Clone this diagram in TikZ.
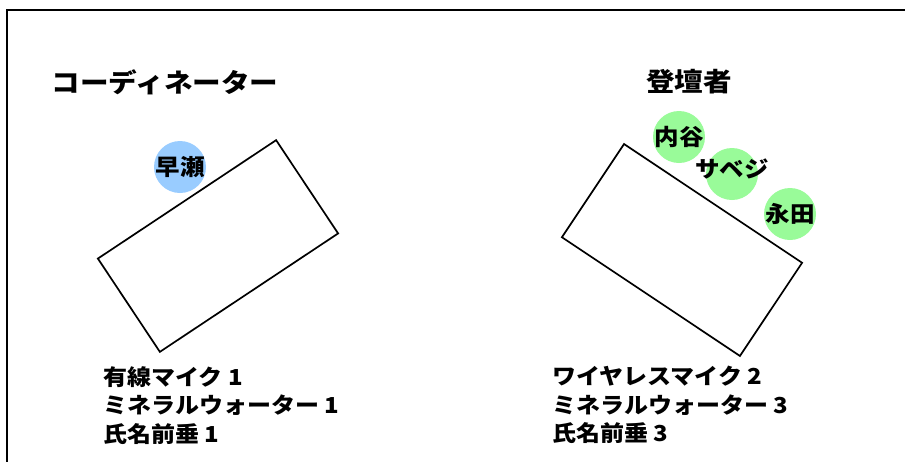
\documentclass[tikz,border=0pt]{standalone}
\usepackage{fontspec}
\newfontfamily\jp{Noto Sans CJK JP}[FakeStretch=1.09]
\newfontfamily\jphead{Noto Sans CJK JP}[FakeStretch=1.1]
\usepackage{tikz}
\usetikzlibrary{calc,positioning}

\begin{document}
\begin{tikzpicture}[x=1pt,y=-1pt,
		desk/.style={draw,line width=1.7pt,minimum width=214pt,minimum height=112pt},
		seat/.style={circle,minimum size=52pt,inner sep=0pt},
		headline/.style={font=\jphead\bfseries\fontsize{26}{26}\selectfont},
		seatlabel/.style={font=\jp\bfseries\fontsize{22.5}{22.5}\selectfont},
		itemlist/.style={font=\jp\bfseries\fontsize{22}{28.5}\selectfont,align=left,anchor=north west,inner sep=0pt}]
		\useasboundingbox (0,0) rectangle (905,461);
		\draw[line width=2.2pt] (7,462) -- (7,10) -- (906,10);
		% coordinator side
		\node(coord) [headline] at (165,82) {コーディネーター};
		\node(ldesk) [desk,rotate=33.6] at (218,246) {};
		\node(hayase) [seat,fill={rgb,255:red,153;green,204;blue,255}] at (180,167) {};
		\node(hayaselbl) at (hayase) [seatlabel] {早瀬};
		\node(litems) [itemlist] at (103,366) {有線マイク 1\\ミネラルウォーター 1\\氏名前垂 1};
		% speakers side
		\node(speak) [headline] at (689,82) {登壇者};
		\node(rdesk) [desk,rotate=-33.7] at (682,250) {};
		\node(uchi) [seat,fill={rgb,255:red,153;green,251;blue,153}] at (679,137) {};
		\node(uchilbl) at (uchi) [seatlabel] {内谷};
		\node(sav) [seat,fill={rgb,255:red,153;green,251;blue,153}] at (732,174) {};
		\node(savlbl) at ($(sav)+(0,-5)$) [seatlabel] {サベジ};
		\node(naga) [seat,fill={rgb,255:red,153;green,251;blue,153}] at (790,214) {};
		\node(nagalbl) at (naga) [seatlabel] {永田};
		\node(ritems) [itemlist] at (552,366) {ワイヤレスマイク 2\\ミネラルウォーター 3\\氏名前垂 3};
\end{tikzpicture}
\end{document}
